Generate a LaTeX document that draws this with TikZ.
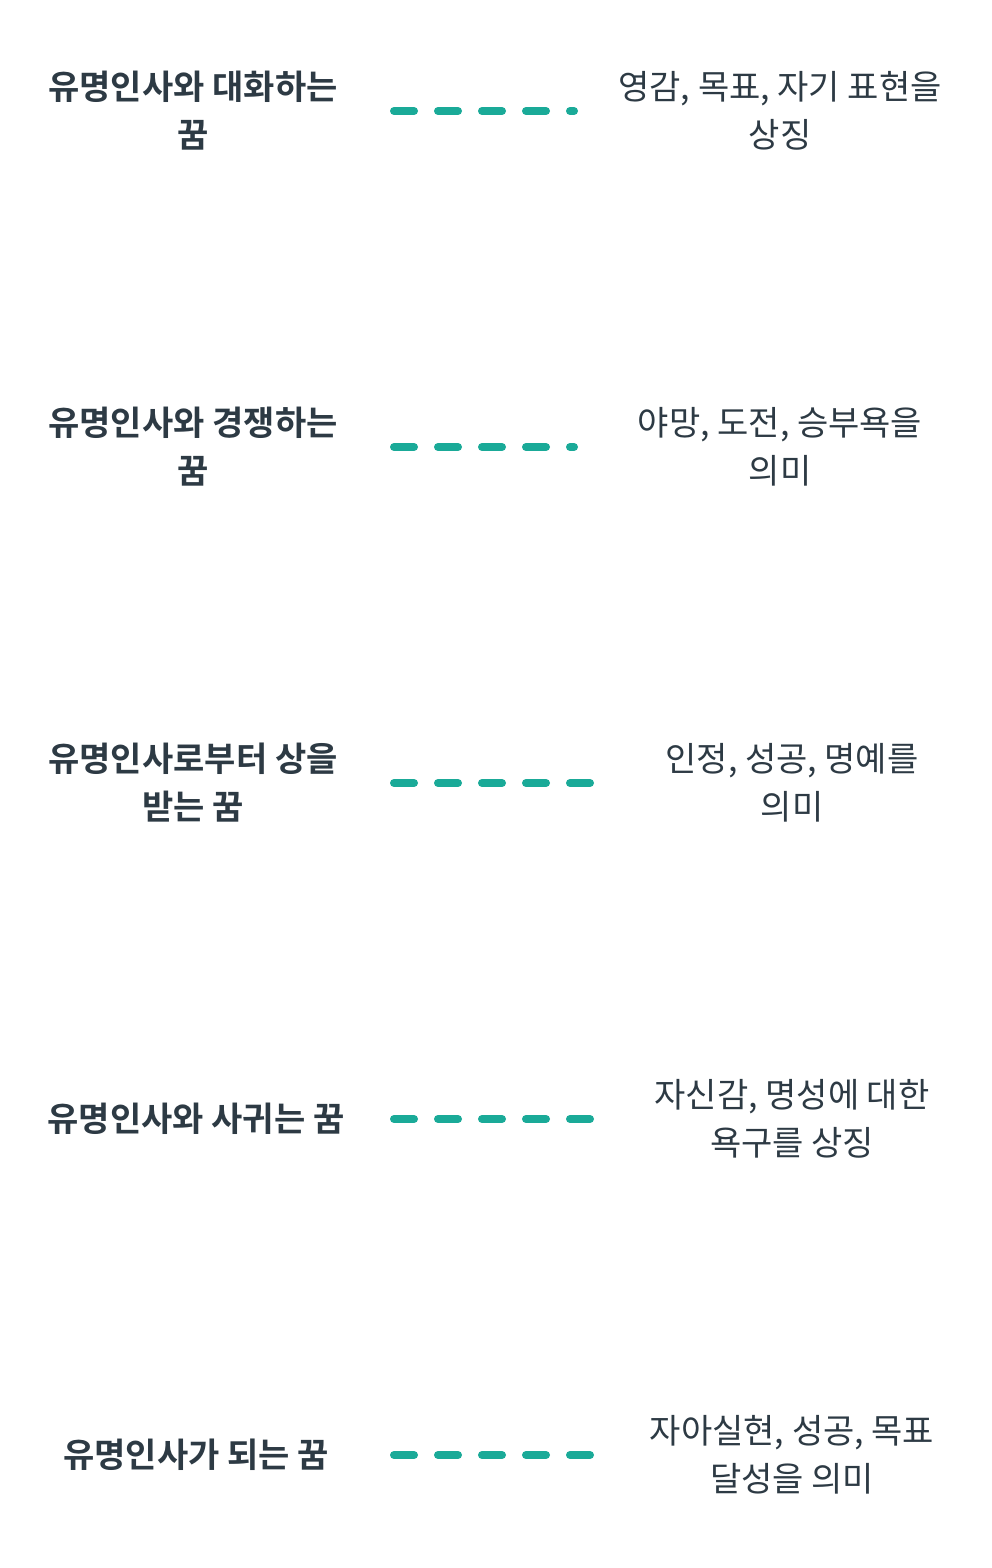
\documentclass[tikz,border=0pt]{standalone}
\usepackage{fontspec}
\newfontfamily\krr{Noto Sans CJK KR}
\newfontfamily\krb{Noto Sans CJK KR Bold}
\definecolor{txt}{HTML}{2D3A44}
\definecolor{teal}{HTML}{1AAA98}
\begin{document}
\begin{tikzpicture}[x=1pt,y=-1pt,
  lft/.style={align=center,text=txt,font=\krb\fontsize{34}{48}\selectfont},
  rgt/.style={align=center,text=txt,font=\krr\fontsize{34}{48}\selectfont},
  dashline/.style={draw=teal,line width=8pt,line cap=round,dash pattern=on 20pt off 24pt}]
\useasboundingbox (0,0) rectangle (992,1568);
\node[lft] (l1) at (193,111) {유명인사와 대화하는\\꿈};
\node[rgt] (r1) at (780,111) {영감, 목표, 자기 표현을\\상징};
\coordinate (a1) at (394,111); \coordinate (b1) at (574,111);
\draw[dashline] (a1) -- (b1);
\node[lft] (l2) at (193,447) {유명인사와 경쟁하는\\꿈};
\node[rgt] (r2) at (780,447) {야망, 도전, 승부욕을\\의미};
\coordinate (a2) at (394,447); \coordinate (b2) at (574,447);
\draw[dashline] (a2) -- (b2);
\node[lft] (l3) at (193,783) {유명인사로부터 상을\\받는 꿈};
\node[rgt] (r3) at (792,783) {인정, 성공, 명예를\\의미};
\coordinate (a3) at (394,783); \coordinate (b3) at (591,783);
\draw[dashline] (a3) -- (b3);
\node[lft] (l4) at (196,1119) {유명인사와 사귀는 꿈};
\node[rgt] (r4) at (792,1119) {자신감, 명성에 대한\\욕구를 상징};
\coordinate (a4) at (394,1119); \coordinate (b4) at (591,1119);
\draw[dashline] (a4) -- (b4);
\node[lft] (l5) at (196,1455) {유명인사가 되는 꿈};
\node[rgt] (r5) at (792,1455) {자아실현, 성공, 목표\\달성을 의미};
\coordinate (a5) at (394,1455); \coordinate (b5) at (591,1455);
\draw[dashline] (a5) -- (b5);
\end{tikzpicture}
\end{document}
